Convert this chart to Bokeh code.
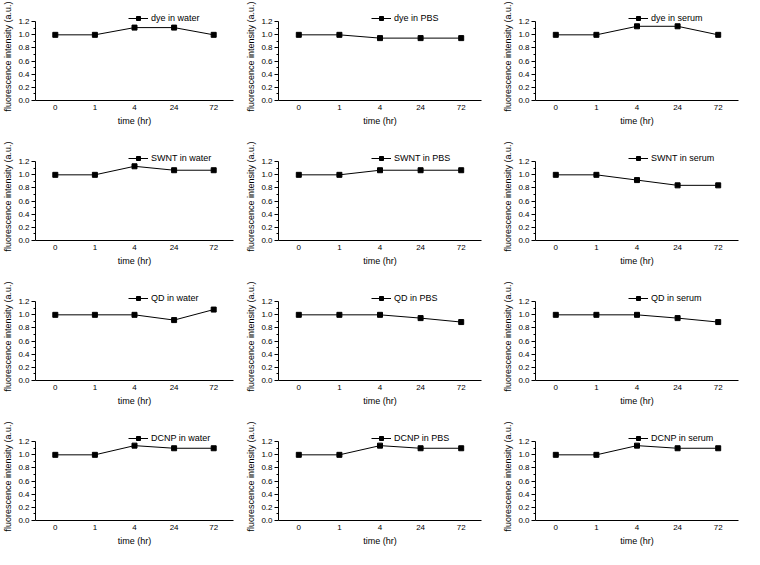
from bokeh.plotting import figure
from bokeh.layouts import gridplot
from bokeh.models import Range1d, FactorRange, FixedTicker, PrintfTickFormatter
from bokeh.embed import file_html
from bokeh.resources import INLINE

times = ["0", "1", "4", "24", "72"]
y_ticks = [0.0, 0.2, 0.4, 0.6, 0.8, 1.0, 1.2]
y_minor = [0.1, 0.3, 0.5, 0.7, 0.9, 1.1]

dye_water = [1.0, 1.0, 1.11, 1.11, 1.0]
dye_pbs = [1.0, 1.0, 0.95, 0.95, 0.95]
dye_serum = [1.0, 1.0, 1.13, 1.13, 1.0]
swnt_water = [1.0, 1.0, 1.13, 1.07, 1.07]
swnt_pbs = [1.0, 1.0, 1.07, 1.07, 1.07]
swnt_serum = [1.0, 1.0, 0.92, 0.84, 0.84]
qd_water = [1.0, 1.0, 1.0, 0.92, 1.08]
qd_pbs = [1.0, 1.0, 1.0, 0.95, 0.89]
qd_serum = [1.0, 1.0, 1.0, 0.95, 0.89]
dcnp_water = [1.0, 1.0, 1.14, 1.10, 1.10]
dcnp_pbs = [1.0, 1.0, 1.14, 1.10, 1.10]
dcnp_serum = [1.0, 1.0, 1.14, 1.10, 1.10]

panels = [
    [("dye in water", dye_water), ("dye in PBS", dye_pbs), ("dye in serum", dye_serum)],
    [("SWNT in water", swnt_water), ("SWNT in PBS", swnt_pbs), ("SWNT in serum", swnt_serum)],
    [("QD in water", qd_water), ("QD in PBS", qd_pbs), ("QD in serum", qd_serum)],
    [("DCNP in water", dcnp_water), ("DCNP in PBS", dcnp_pbs), ("DCNP in serum", dcnp_serum)],
]

FONT = "Liberation Sans"
FRAME_W = 203
FRAME_H = 88
COL_LEFT = [30, 37, 45]
COL_RIGHT = [8, 9, 6]


def make_panel(label, values, r, c):
    left = COL_LEFT[c]
    right = COL_RIGHT[c]
    top = 12 if r == 0 else 22
    bottom = 29 if r == 3 else 30
    p = figure(
        width=left + FRAME_W + right,
        height=top + FRAME_H + bottom,
        x_range=FactorRange(*times),
        y_range=Range1d(0, 1.34),
        output_backend="svg",
        toolbar_location=None,
        min_border_left=left,
        min_border_right=right,
        min_border_top=top,
        min_border_bottom=bottom,
    )
    p.outline_line_color = None
    p.xgrid.visible = False
    p.ygrid.visible = False
    p.background_fill_color = None
    p.border_fill_color = None

    p.line(times, values, line_color="black", line_width=1, legend_label=label)
    p.scatter(times, values, marker="square", size=5, fill_color="black",
              line_color="black", legend_label=label)

    xa = p.xaxis[0]
    xa.axis_label = "time (hr)"
    xa.axis_label_text_font = FONT
    xa.axis_label_text_font_size = "9px"
    xa.axis_label_text_font_style = "normal"
    xa.axis_label_text_color = "black"
    xa.axis_label_standoff = 3
    xa.major_label_text_font = FONT
    xa.major_label_text_font_size = "8px"
    xa.major_label_text_color = "black"
    xa.major_label_standoff = 4
    xa.major_tick_out = 0
    xa.major_tick_in = 0
    xa.minor_tick_out = 0
    xa.axis_line_color = "black"

    ya = p.yaxis[0]
    ya.ticker = FixedTicker(ticks=y_ticks, minor_ticks=y_minor)
    ya.formatter = PrintfTickFormatter(format="%.1f")
    ya.bounds = (y_ticks[0], y_ticks[-1])
    ya.axis_label = "fluorescence intensity (a.u.)"
    ya.axis_label_text_font = FONT
    ya.axis_label_text_font_size = "9px"
    ya.axis_label_text_font_style = "normal"
    ya.axis_label_text_color = "black"
    ya.axis_label_standoff = 2
    ya.major_label_text_font = FONT
    ya.major_label_text_font_size = "8px"
    ya.major_label_text_color = "black"
    ya.major_label_standoff = 2
    ya.major_tick_out = 4
    ya.major_tick_in = 0
    ya.minor_tick_out = 2
    ya.minor_tick_in = 0
    ya.axis_line_color = "black"

    lg = p.legend[0]
    lg.location = (93, 77)
    lg.border_line_color = None
    lg.background_fill_alpha = 0
    lg.padding = 0
    lg.margin = 0
    lg.spacing = 0
    lg.glyph_width = 20
    lg.glyph_height = 10
    lg.label_height = 10
    lg.label_standoff = 3
    lg.label_text_font = FONT
    lg.label_text_font_size = "9px"
    lg.label_text_color = "black"
    return p


children = []
for r, row in enumerate(panels):
    children.append([make_panel(lbl, vals, r, c) for c, (lbl, vals) in enumerate(row)])

grid = gridplot(children, toolbar_location=None)

open("out.html", "w").write(file_html(grid, INLINE))
